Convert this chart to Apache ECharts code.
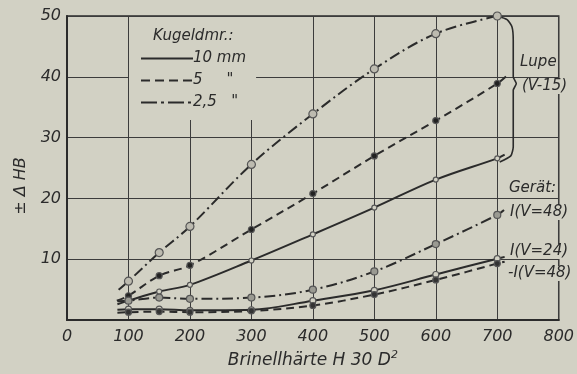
<!DOCTYPE html>
<html><head><meta charset="utf-8">
<script src="https://cdn.jsdelivr.net/npm/echarts@6/dist/echarts.min.js"></script>
<style>html,body{margin:0;padding:0;background:#d2d1c4;}#c{width:577px;height:374px;}</style>
</head><body><div id="c"></div>
<script>
const xTicks = [0,100,200,300,400,500,600,700,800];
const yTicks = [0,10,20,30,40,50];
const hardness = [100,150,200,300,400,500,600,700];
// Lupe (V-15)
const lupe10 = [3.2,4.7,5.8,9.8,14.1,18.5,23.1,26.6];
const lupe5 = [4.0,7.3,9.0,14.9,20.8,27.0,32.8,38.9];
const lupe25 = [6.4,11.1,15.4,25.6,33.9,41.3,47.1,50.0];
// Gerät I
const geraetV48dashdot = [3.2,3.7,3.5,3.7,5.0,8.0,12.5,17.3];
const geraetV24 = [1.8,1.8,1.6,1.7,3.2,4.9,7.5,10.1];
const geraetV48dashed = [1.3,1.4,1.3,1.5,2.4,4.2,6.6,9.3];
// curve start / end points (no markers)
const starts = {lupe10:[82,2.6], lupe5:[81,3.2], lupe25:[84,5.0], g48dd:[82,3.1], g24:[82,1.7], g48d:[82,1.2]};
const ends = {lupe10:[712,27.2], lupe5:[718,40.4], lupe25:null, g48dd:[711,18.1], g24:[712,10.4], g48d:[712,9.6]};
const bracketX = [700,716,724,726,726,731,726,726,722,704];
const bracketY = [50,49.4,48.2,46,40,38.9,37.8,28.5,27,26];
const legendNames = ['10 mm','5','2,5'];

const BG = '#d2d1c4', INK = '#2b2b2b';
const FONT = 'DejaVu Sans';
function build(key, vals){
  const d = [{value:starts[key], symbol:'none'}];
  hardness.forEach((x,i)=>d.push([x,vals[i]]));
  if (ends[key]) d.push({value:ends[key], symbol:'none'});
  return d;
}
const dashed = [8,5], dashdot = [11,4,2,4];
function ser(name, key, vals, type, sym, size, fill){
  return {name, type:'line', data:build(key, vals), smooth:0.35, symbol:sym, symbolSize:size,
    showSymbol:true, lineStyle:{color:INK, width:2, type:type},
    itemStyle:{color:fill, borderColor:'#555', borderWidth:1.2}, z:3, silent:true};
}
const series = [
  ser('L10','lupe10',lupe10,'solid','circle',5,BG),
  ser('L5','lupe5',lupe5,dashed,'circle',6,'#222'),
  ser('L25','lupe25',lupe25,dashdot,'circle',8,'#bdbbb0'),
  ser('G48dd','g48dd',geraetV48dashdot,dashdot,'circle',7,'#9a9a92'),
  ser('G24','g24',geraetV24,'solid','circle',6,BG),
  ser('G48d','g48d',geraetV48dashed,dashed,'circle',6,'#333'),
  {name:'bracket', type:'line', data:bracketX.map((x,i)=>[x,bracketY[i]]), symbol:'none', smooth:0.2,
   lineStyle:{color:INK,width:1.6}, z:3, silent:true},
  {name:legendNames[0], type:'line', data:[], symbol:'none', itemStyle:{color:INK}, lineStyle:{color:INK,width:2.2,type:'solid'}},
  {name:legendNames[1], type:'line', data:[], symbol:'none', itemStyle:{color:INK}, lineStyle:{color:INK,width:2.2,type:[9,5]}},
  {name:legendNames[2], type:'line', data:[], symbol:'none', itemStyle:{color:INK}, lineStyle:{color:INK,width:2.2,type:[16,4,3,4]}}
];
const ts = {fontFamily:FONT, fontStyle:'italic', color:INK};
const LF = 'italic 15px "DejaVu Sans"';
const chart = echarts.init(document.getElementById('c'), null, {renderer:'canvas'});
chart.setOption({
  backgroundColor: BG,
  animation:false,
  grid:{left:67, right:14, top:16, bottom:46, show:true, borderColor:INK, borderWidth:1.5, backgroundColor:'transparent'},
  title:{text:'Kugeldmr.:', left:148, top:24, textStyle:Object.assign({fontSize:15, fontWeight:'normal'}, ts), z:10},
  legend:{data:legendNames, orient:'vertical', left:129, top:17, padding:[34,10,10,11],
    backgroundColor:BG, itemWidth:52, itemHeight:14, itemGap:7,
    itemStyle:{opacity:0},
    textStyle:Object.assign({fontSize:15, padding:[0,0,0,-5]}, ts),
    formatter: n => n==='10 mm' ? '10 mm' : (n + (n==='5' ? '     "' : '   "')), z:5},
  xAxis:{type:'value', min:xTicks[0], max:xTicks[xTicks.length-1], interval:100,
    axisLine:{show:true, lineStyle:{color:INK,width:2}}, axisTick:{show:false},
    splitLine:{show:true, lineStyle:{color:'#3c3c3c', width:1}},
    axisLabel:Object.assign({fontSize:16, margin:9}, ts),
    name:'Brinellhärte H 30 D{s|2}', nameLocation:'middle', nameGap:25,
    nameTextStyle:Object.assign({fontSize:17, rich:{s:Object.assign({fontSize:11, verticalAlign:'top', padding:[0,0,10,0]}, ts)}}, ts)},
  yAxis:{type:'value', min:yTicks[0], max:yTicks[yTicks.length-1], interval:10,
    axisLine:{show:true, lineStyle:{color:INK,width:2}}, axisTick:{show:false},
    splitLine:{show:true, lineStyle:{color:'#3c3c3c', width:1}},
    axisLabel:Object.assign({fontSize:16, margin:6, formatter:v=> v===0 ? '' : String(v)}, ts),
    name:'± Δ HB', nameLocation:'middle', nameGap:38, nameRotate:90,
    nameTextStyle:Object.assign({fontSize:16, padding:[0,0,0,-36]}, ts)},
  graphic:[
    {type:'text', left:520, top:55, z:20, style:{text:'Lupe', fill:INK, font:LF, backgroundColor:BG}},
    {type:'text', left:522, top:79, z:20, style:{text:'(V-15)', fill:INK, font:LF, backgroundColor:BG}},
    {type:'text', left:509, top:181, z:20, style:{text:'Gerät:', fill:INK, font:LF, backgroundColor:BG}},
    {type:'text', left:510, top:205, z:20, style:{text:'I(V=48)', fill:INK, font:LF, backgroundColor:BG}},
    {type:'text', left:510, top:244, z:20, style:{text:'I(V=24)', fill:INK, font:LF, backgroundColor:BG}},
    {type:'text', left:508, top:266, z:20, style:{text:'-I(V=48)', fill:INK, font:LF, backgroundColor:BG}}
  ],
  series
});
</script></body></html>
